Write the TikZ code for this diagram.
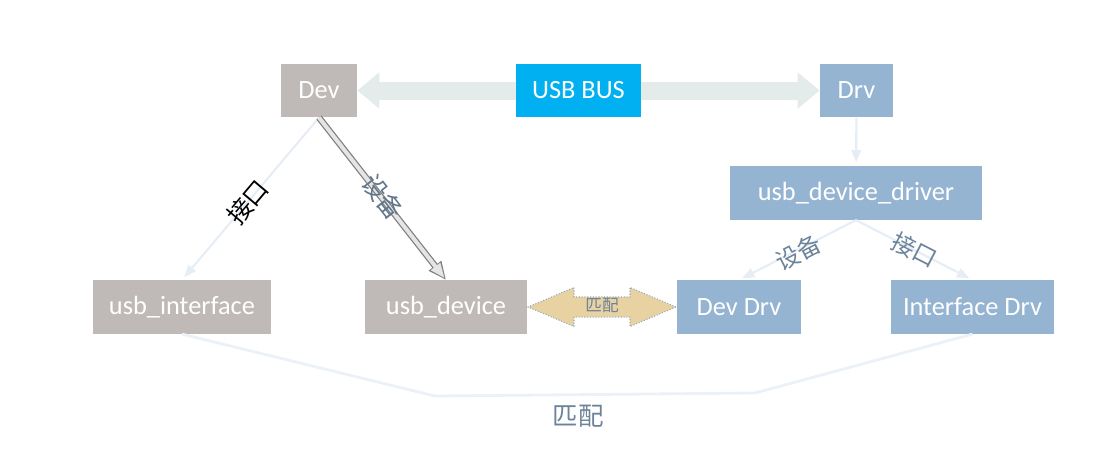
\documentclass[tikz,border=0pt]{standalone}
\usepackage{fontspec}
\setmainfont{Carlito}
\newfontfamily\cjk{Noto Sans CJK SC}
\usetikzlibrary{arrows.meta,shapes.arrows}
\definecolor{devgray}{HTML}{BFB9B8}
\definecolor{drvblue}{HTML}{94B4D1}
\definecolor{busblue}{HTML}{00B0F0}
\definecolor{busarrow}{HTML}{E3ECEB}
\definecolor{thinline}{HTML}{E6EDF5}
\definecolor{labelblue}{HTML}{6C8399}
\definecolor{matchtan}{HTML}{E8D2A2}
\definecolor{dotblue}{HTML}{8FAAC4}

\begin{document}
\begin{tikzpicture}[
  x=0.02cm, y=-0.02cm,
  font=\fontsize{15}{18}\selectfont,
  box/.style={text=white, inner sep=0pt, minimum height=1.07cm},
  devbox/.style={box, fill=devgray},
  drvbox/.style={box, fill=drvblue},
  busarr/.style={draw=busarrow, line width=0.36cm, -{Triangle[length=0.44cm,width=0.7cm]}},
  link/.style={draw=thinline, line width=1.2pt, -{Triangle[length=7pt,width=5.5pt]}, shorten >=2pt},
  devarr/.style={draw=black!10, line width=0.08cm, -{Triangle[length=0.3cm,width=0.22cm]}, shorten >=1.2pt,
    preaction={draw=black!50, line width=0.13cm, -{Triangle[length=0.36cm,width=0.3cm]}, shorten >=0pt}},
  lbl/.style={font=\cjk\fontsize{13.5}{16}\selectfont, sloped, inner sep=0pt},
]
\useasboundingbox (0,0) rectangle (1120,458);

% top row
\node[devbox, minimum width=1.52cm] (dev) at (319,90.5) {Dev};
\node[box, fill=busblue, minimum width=2.5cm] (bus) at (578.5,90.5) {USB BUS};
\node[drvbox, minimum width=1.46cm] (drv) at (856.5,90.5) {Drv};
\draw[busarr] (bus) -- (dev);
\draw[busarr] (bus) -- (drv);

% driver side
\node[drvbox, minimum width=5.04cm] (udd) at (856,193) {usb\_device\_driver};
\node[drvbox, minimum width=2.48cm] (ddrv) at (739,307) {Dev Drv};
\node[drvbox, minimum width=3.26cm] (idrv) at (972.5,307) {Interface Drv};
\draw[link] (drv) -- (udd);
\draw[link] (udd.south) -- node[lbl, text=labelblue, pos=0.5, yshift=-1.5pt] {设备} (ddrv.north);
\draw[link] (udd.south) -- node[lbl, text=labelblue, pos=0.5] {接口} (idrv.north);

% device side
\node[devbox, minimum width=3.56cm] (uif) at (182,307) {usb\_interface};
\node[devbox, minimum width=3.24cm] (udev) at (446,307) {usb\_device};
\draw[link] (dev.south) -- node[lbl, pos=0.52, font=\cjk\fontsize{14}{16}\selectfont] {接口} (uif.north);
\draw[devarr] (dev.south) -- (udev.north);
\node[lbl, rotate=-52, text=labelblue!90!black, font=\cjk\fontsize{14}{16}\selectfont] (devlbl) at (383,197) {设备};

% match between device and driver
\node[double arrow, fill=matchtan, draw=dotblue, densely dotted, line width=0.6pt,
  minimum height=2.96cm, inner sep=0pt, text height=0.27cm, text depth=0.11cm,
  double arrow head extend=0.19cm, double arrow tip angle=46,
  font=\cjk\fontsize{9.5}{10}\selectfont, text=labelblue] (match) at (602,307) {匹配};

\coordinate (b1) at (435,396);
\coordinate (b2) at (755,393);
\draw[draw=thinline!80!white, line width=1.6pt] (uif.south) -- (b1) -- (b2) -- (idrv.south);
\node[font=\cjk\fontsize{14.5}{17}\selectfont, text=labelblue] (matchlbl) at (578,416) {匹配};
\end{tikzpicture}
\end{document}
